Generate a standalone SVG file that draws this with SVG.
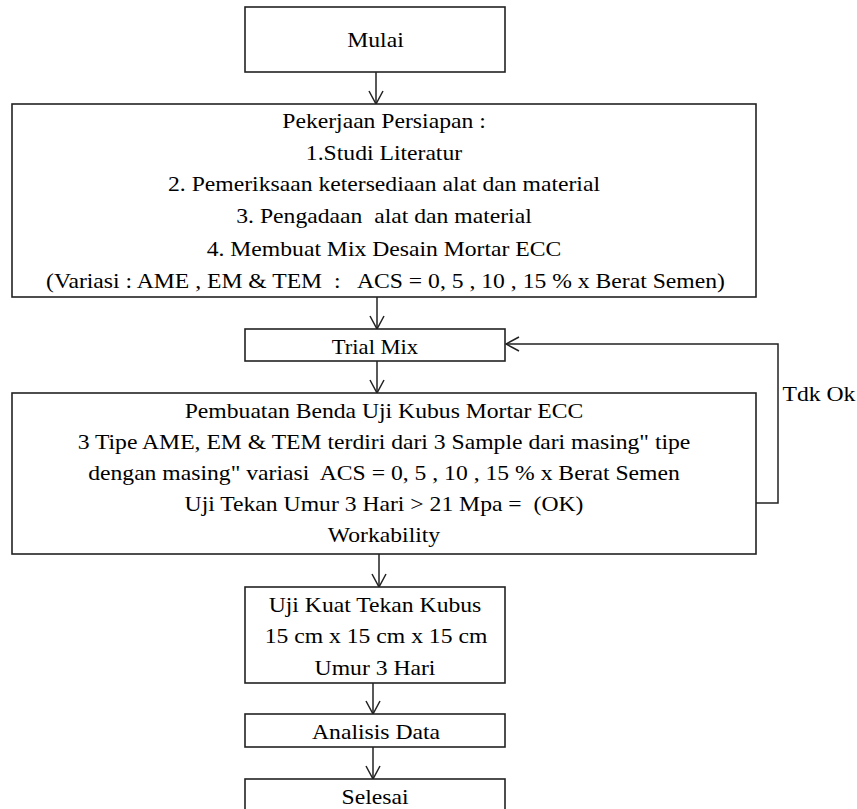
<svg xmlns="http://www.w3.org/2000/svg" width="857" height="809" viewBox="0 0 857 809">
<defs>
<marker id="arr" viewBox="0 0 16 16" refX="15" refY="8" markerWidth="16" markerHeight="16" markerUnits="userSpaceOnUse" orient="auto">
<path d="M2,1 L15,8 L2,15" fill="none" stroke="#222" stroke-width="1.5"/>
</marker>
<style>
.box{fill:#fff;stroke:#222;stroke-width:1.6}
text{font-family:'Liberation Serif','Times New Roman',serif;font-size:21.5px;fill:#000;text-anchor:middle}
.c{fill:none;stroke:#222;stroke-width:1.5;marker-end:url(#arr)}
</style>
</defs>
<rect width="857" height="809" fill="#fff"/>
<g id="connectors">
<line class="c" x1="376" y1="72" x2="376" y2="104"/>
<line class="c" x1="377" y1="297" x2="377" y2="329"/>
<line class="c" x1="377" y1="361" x2="377" y2="393"/>
<line class="c" x1="379" y1="554" x2="379" y2="587"/>
<line class="c" x1="373" y1="683" x2="373" y2="714"/>
<line class="c" x1="373" y1="747" x2="373" y2="779"/>
<polyline class="c" points="756,503 778,503 778,344 506,344"/>
<text font-family="Liberation Serif, serif" transform="matrix(1.1 0 0 1 819 401)">Tdk Ok</text>
</g>
<g id="mulai">
<rect class="box" x="245" y="7" width="260" height="65"/>
<text font-family="Liberation Serif, serif" transform="matrix(1.1 0 0 1 375.5 47)">Mulai</text>
</g>
<g id="persiapan">
<rect class="box" x="12" y="104" width="744" height="193"/>
<text font-family="Liberation Serif, serif" transform="matrix(1.1 0 0 1 384 128)">Pekerjaan Persiapan :</text>
<text font-family="Liberation Serif, serif" transform="matrix(1.1 0 0 1 384 160)">1.Studi Literatur</text>
<text font-family="Liberation Serif, serif" transform="matrix(1.1 0 0 1 384 191)">2. Pemeriksaan ketersediaan alat dan material</text>
<text font-family="Liberation Serif, serif" transform="matrix(1.1 0 0 1 384 223)" xml:space="preserve">3. Pengadaan  alat dan material</text>
<text font-family="Liberation Serif, serif" transform="matrix(1.1 0 0 1 384 256)">4. Membuat Mix Desain Mortar ECC</text>
<text font-family="Liberation Serif, serif" transform="matrix(1.1 0 0 1 385.5 288)" xml:space="preserve">(Variasi : AME , EM &amp; TEM  :   ACS = 0, 5 , 10 , 15 % x Berat Semen)</text>
</g>
<g id="trialmix">
<rect class="box" x="245" y="329" width="260" height="32"/>
<text font-family="Liberation Serif, serif" transform="matrix(1.05 0 0 1 375 354)">Trial Mix</text>
</g>
<g id="pembuatan">
<rect class="box" x="12" y="393" width="744" height="161"/>
<text font-family="Liberation Serif, serif" transform="matrix(1.1 0 0 1 384 418)">Pembuatan Benda Uji Kubus Mortar ECC</text>
<text font-family="Liberation Serif, serif" transform="matrix(1.1 0 0 1 384 449)">3 Tipe AME, EM &amp; TEM terdiri dari 3 Sample dari masing" tipe</text>
<text font-family="Liberation Serif, serif" transform="matrix(1.1 0 0 1 384 480)" xml:space="preserve">dengan masing" variasi  ACS = 0, 5 , 10 , 15 % x Berat Semen</text>
<text font-family="Liberation Serif, serif" transform="matrix(1.1 0 0 1 384 511)" xml:space="preserve">Uji Tekan Umur 3 Hari &gt; 21 Mpa =  (OK)</text>
<text font-family="Liberation Serif, serif" transform="matrix(1.1 0 0 1 384 542)">Workability</text>
</g>
<g id="ujikuat">
<rect class="box" x="245" y="587" width="260" height="96"/>
<text font-family="Liberation Serif, serif" transform="matrix(1.1 0 0 1 375 612)">Uji Kuat Tekan Kubus</text>
<text font-family="Liberation Serif, serif" transform="matrix(1.1 0 0 1 376 643)">15 cm x 15 cm x 15 cm</text>
<text font-family="Liberation Serif, serif" transform="matrix(1.1 0 0 1 375 675)">Umur 3 Hari</text>
</g>
<g id="analisis">
<rect class="box" x="245" y="714" width="260" height="33"/>
<text font-family="Liberation Serif, serif" transform="matrix(1.1 0 0 1 376 739)">Analisis Data</text>
</g>
<g id="selesai">
<rect class="box" x="245" y="779" width="260" height="40"/>
<text font-family="Liberation Serif, serif" transform="matrix(1.1 0 0 1 375 804)">Selesai</text>
</g>
</svg>
